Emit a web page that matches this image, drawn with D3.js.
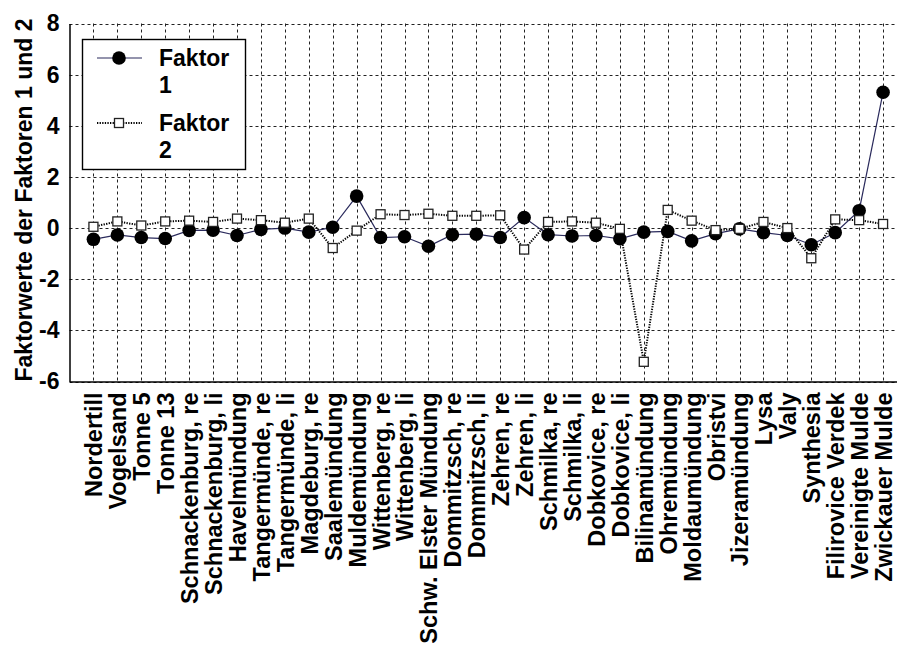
<!DOCTYPE html>
<html>
<head>
<meta charset="utf-8">
<script src="https://cdnjs.cloudflare.com/ajax/libs/d3/7.8.5/d3.min.js"></script>
<style>
    body { margin: 0; background: #fff; }
    svg { display: block; font-family: "Liberation Sans", Arial, Helvetica, sans-serif; font-weight: bold; }
</style>
</head>
<body>
<svg></svg>
<script>
const stations = ["Nordertill", "Vogelsand", "Tonne 5", "Tonne 13", "Schnackenburg, re",
    "Schnackenburg, li", "Havelmündung", "Tangermünde, re", "Tangermünde, li", "Magdeburg, re",
    "Saalemündung", "Muldemündung", "Wittenberg, re", "Wittenberg, li", "Schw. Elster Mündung",
    "Dommitzsch, re", "Dommitzsch, li", "Zehren, re", "Zehren, li", "Schmilka, re", "Schmilka, li",
    "Dobkovice, re", "Dobkovice, li", "Bilinamündung", "Ohremündung", "Moldaumündung", "Obristvi",
    "Jizeramündung", "Lysa", "Valy", "Synthesia", "Filirovice Verdek", "Vereinigte Mulde",
    "Zwickauer Mulde"];

const faktor1 = [-0.44, -0.27, -0.37, -0.41, -0.09, -0.08, -0.29, -0.05, 0.0, -0.16,
    0.03, 1.25, -0.37, -0.34, -0.71, -0.26, -0.24, -0.37, 0.41, -0.26, -0.31,
    -0.29, -0.42, -0.16, -0.13, -0.5, -0.22, -0.03, -0.18, -0.29, -0.65, -0.18, 0.68, 5.31];

const faktor2 = [0.05, 0.26, 0.1, 0.26, 0.29, 0.24, 0.37, 0.31, 0.21, 0.37,
    -0.78, -0.1, 0.54, 0.51, 0.56, 0.48, 0.48, 0.5, -0.84, 0.24, 0.26,
    0.21, -0.03, -5.23, 0.71, 0.29, -0.08, -0.03, 0.24, 0.0, -1.18, 0.34, 0.31, 0.16];

const yTicks = [-6, -4, -2, 0, 2, 4, 6, 8];

const legendLabels = [["Faktor", "1"], ["Faktor", "2"]];

const width = 897;
const height = 645;
const plotLeft = 69.5;
const plotRight = 907;   // plot runs past the picture edge, as in the original
const plotTop = 23.5;
const plotBottom = 381.5;

let svg = d3.select('svg')
    .attr('width', width)
    .attr('height', height);

let xScale = d3.scalePoint()
    .domain(stations)
    .range([plotLeft, plotRight])
    .padding(1);

let yScale = d3.scaleLinear()
    .domain([-6, 8])
    .range([plotBottom, plotTop]);

// grid
let grid = svg.append('g')
    .attr('stroke', '#222')
    .attr('stroke-width', 1)
    .attr('stroke-dasharray', '3,3');

grid.selectAll('.vgrid')
    .data(stations)
    .enter()
    .append('line')
    .attr('x1', d => Math.round(xScale(d)) + 0.5)
    .attr('x2', d => Math.round(xScale(d)) + 0.5)
    .attr('y1', plotTop)
    .attr('y2', plotBottom);

grid.selectAll('.hgrid')
    .data(yTicks)
    .enter()
    .append('line')
    .attr('x1', plotLeft)
    .attr('x2', plotRight)
    .attr('y1', d => Math.round(yScale(d)) + 0.5)
    .attr('y2', d => Math.round(yScale(d)) + 0.5);

// axes
let xAxis = d3.axisBottom(xScale).tickSize(0);
let gx = svg.append('g')
    .attr('transform', 'translate(0,' + plotBottom + ')')
    .call(xAxis);
gx.select('.domain').attr('stroke', '#000').attr('stroke-width', 1.5);
gx.selectAll('text')
    .attr('transform', 'rotate(-90)')
    .attr('x', -11)
    .attr('y', 0)
    .attr('dy', '0.36em')
    .attr('text-anchor', 'end')
    .attr('fill', '#000')
    .style('font-size', '23.5px')
    .style('font-weight', 'bold');

let yAxis = d3.axisLeft(yScale).tickValues(yTicks).tickSize(0).tickPadding(10).tickFormat(d3.format('d'));
let gy = svg.append('g')
    .attr('transform', 'translate(' + plotLeft + ',0)')
    .call(yAxis);
gy.select('.domain').attr('stroke', '#000').attr('stroke-width', 1.5);
gy.selectAll('text')
    .attr('fill', '#000')
    .style('font-size', '23px')
    .style('font-weight', 'bold')
    .text(d => d < 0 ? '-' + Math.abs(d) : d);

svg.append('text')
    .attr('transform', 'translate(32,' + 200 + ') rotate(-90)')
    .attr('text-anchor', 'middle')
    .style('font-size', '23px')
    .text('Faktorwerte der Faktoren 1 und 2');

// series 1
let line1 = d3.line()
    .x((d, i) => xScale(stations[i]))
    .y(d => yScale(d));

svg.append('path')
    .datum(faktor1)
    .attr('fill', 'none')
    .attr('stroke', '#2a2a5c')
    .attr('stroke-width', 1.2)
    .attr('d', line1);

svg.selectAll('.dot1')
    .data(faktor1)
    .enter()
    .append('circle')
    .attr('cx', (d, i) => xScale(stations[i]))
    .attr('cy', d => yScale(d))
    .attr('r', 6.8)
    .attr('fill', '#000');

// series 2
svg.append('path')
    .datum(faktor2)
    .attr('fill', 'none')
    .attr('stroke', '#000')
    .attr('stroke-width', 2)
    .attr('stroke-dasharray', '1.3,1.3')
    .attr('d', line1);

svg.selectAll('.sq2')
    .data(faktor2)
    .enter()
    .append('rect')
    .attr('x', (d, i) => xScale(stations[i]) - 4.5)
    .attr('y', d => yScale(d) - 4.5)
    .attr('width', 9)
    .attr('height', 9)
    .attr('fill', '#fff')
    .attr('stroke', '#222')
    .attr('stroke-width', 1.3);

// legend
let legend = svg.append('g');
legend.append('rect')
    .attr('x', 82.5)
    .attr('y', 39.5)
    .attr('width', 163)
    .attr('height', 130)
    .attr('fill', '#fff')
    .attr('stroke', '#000')
    .attr('stroke-width', 1.4);

let ly = [58, 123];
legend.append('line')
    .attr('x1', 97).attr('x2', 142)
    .attr('y1', ly[0]).attr('y2', ly[0])
    .attr('stroke', '#2a2a5c').attr('stroke-width', 1.2);
legend.append('circle')
    .attr('cx', 119).attr('cy', ly[0]).attr('r', 6.8).attr('fill', '#000');
legend.append('line')
    .attr('x1', 97).attr('x2', 142)
    .attr('y1', ly[1]).attr('y2', ly[1])
    .attr('stroke', '#000').attr('stroke-width', 2).attr('stroke-dasharray', '1.3,1.3');
legend.append('rect')
    .attr('x', 114.5).attr('y', ly[1] - 4.5).attr('width', 9).attr('height', 9)
    .attr('fill', '#fff').attr('stroke', '#222').attr('stroke-width', 1.3);

legendLabels.forEach((lab, i) => {
    let t = legend.append('text')
        .attr('x', 159)
        .attr('y', ly[i] + 8)
        .style('font-size', '23px');
    t.append('tspan').attr('x', 159).text(lab[0]);
    t.append('tspan').attr('x', 159).attr('dy', 27).text(lab[1]);
});
</script>
</body>
</html>
